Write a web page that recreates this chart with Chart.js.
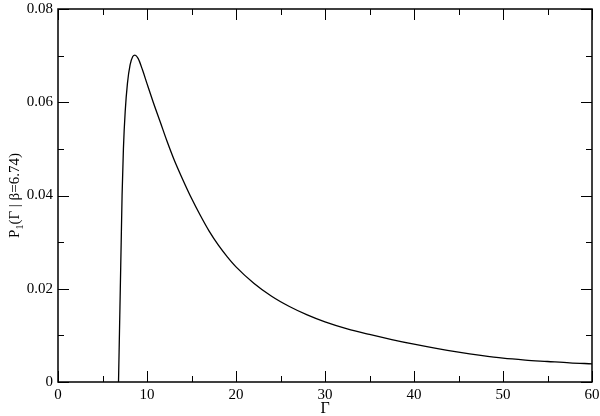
<!DOCTYPE html>
<html>
<head>
<meta charset="utf-8">
<script src="https://cdn.jsdelivr.net/npm/chart.js@4/dist/chart.umd.min.js"></script>
<style>
  body { margin: 0; background: #fff; }
  #wrap { width: 600px; height: 416px; }
</style>
</head>
<body>
<div id="wrap"><canvas id="plot"></canvas></div>
<script>
// values
const gamma = [6.80, 6.85, 6.92, 7.00, 7.10, 7.20, 7.35, 7.55, 7.80, 8.10, 8.40, 8.65, 9.0, 9.5,
  10.0, 10.7, 11.5, 12.2, 13.0, 14.0, 15.0, 16.0, 17.0, 18.0, 19.0, 20.0, 22.0, 24.0, 26.0,
  28.0, 30.0, 32.5, 35.0, 37.5, 40.0, 42.5, 45.0, 47.5, 50.0, 52.5, 55.0, 57.5, 60.0];
const prob = [0, 0.005, 0.012, 0.020, 0.030, 0.040, 0.050, 0.058, 0.064, 0.068, 0.0698, 0.0701, 0.0694, 0.0669,
  0.0640, 0.0600, 0.0557, 0.0519, 0.0479, 0.0435, 0.0394, 0.0357, 0.0323, 0.0294, 0.0269, 0.0247, 0.0212, 0.0184, 0.0162,
  0.0144, 0.0129, 0.0114, 0.0102, 0.0091, 0.0081, 0.0072, 0.0064, 0.0057, 0.0051, 0.0047, 0.0044, 0.0041, 0.0039];

const xMajor = [0, 10, 20, 30, 40, 50, 60];
const xMinor = [5, 15, 25, 35, 45, 55];
const yMajor = [0, 0.02, 0.04, 0.06, 0.08];
const yMinor = [0.01, 0.03, 0.05, 0.07];
const yTickLabels = ['0', '0.02', '0.04', '0.06', '0.08'];

const serif = '"Liberation Serif", "Times New Roman", Times, serif';

// frame, inward ticks on all four sides, and axis titles
const framePlugin = {
  id: 'frame',
  afterDraw(chart) {
    const ctx = chart.ctx;
    const a = chart.chartArea;
    const xs = chart.scales.x, ys = chart.scales.y;
    ctx.save();
    ctx.strokeStyle = '#000';
    ctx.lineWidth = 1.5;
    ctx.strokeRect(a.left, a.top, a.right - a.left, a.bottom - a.top);

    ctx.lineWidth = 1;
    const tick = (x1, y1, x2, y2) => {
      ctx.beginPath(); ctx.moveTo(x1, y1); ctx.lineTo(x2, y2); ctx.stroke();
    };
    xMajor.forEach(v => {
      const p = Math.round(xs.getPixelForValue(v)) + 0.5;
      tick(p, a.bottom, p, a.bottom - 11);
      tick(p, a.top, p, a.top + 11);
    });
    xMinor.forEach(v => {
      const p = Math.round(xs.getPixelForValue(v)) + 0.5;
      tick(p, a.bottom, p, a.bottom - 6);
      tick(p, a.top, p, a.top + 6);
    });
    yMajor.forEach(v => {
      const p = Math.round(ys.getPixelForValue(v)) + 0.5;
      tick(a.left, p, a.left + 11, p);
      tick(a.right, p, a.right - 11, p);
    });
    yMinor.forEach(v => {
      const p = Math.round(ys.getPixelForValue(v)) + 0.5;
      tick(a.left, p, a.left + 6, p);
      tick(a.right, p, a.right - 6, p);
    });

    ctx.fillStyle = '#000';
    // x title
    ctx.font = '16px ' + serif;
    ctx.textAlign = 'center';
    ctx.textBaseline = 'alphabetic';
    ctx.fillText('Γ', (a.left + a.right) / 2, 413);

    // y title with subscript
    ctx.translate(19, (a.top + a.bottom) / 2);
    ctx.rotate(-Math.PI / 2);
    const big = '15px ' + serif, small = '10px ' + serif;
    const parts = [['P', big, 0], ['1', small, 4], ['(Γ | β=6.74)', big, 0]];
    let total = 0;
    parts.forEach(([t, f]) => { ctx.font = f; total += ctx.measureText(t).width; });
    let x = -total / 2;
    ctx.textAlign = 'left';
    parts.forEach(([t, f, dy]) => {
      ctx.font = f;
      ctx.fillText(t, x, dy);
      x += ctx.measureText(t).width;
    });
    ctx.restore();
  }
};

new Chart(document.getElementById('plot'), {
  type: 'line',
  data: {
    datasets: [{
      data: gamma.map((g, i) => ({ x: g, y: prob[i] })),
      borderColor: '#000',
      borderWidth: 1.3,
      pointRadius: 0,
      fill: false,
      cubicInterpolationMode: 'monotone'
    }]
  },
  options: {
    responsive: true,
    maintainAspectRatio: false,
    animation: false,
    layout: { padding: { top: 9, right: 8, left: 0, bottom: 0 } },
    plugins: { legend: { display: false }, tooltip: { enabled: false } },
    scales: {
      x: {
        type: 'linear',
        min: 0, max: 60,
        grid: { display: false, drawTicks: false },
        border: { display: false },
        afterFit: s => { s.height = 34; s.paddingLeft = 0; s.paddingRight = 0; },
        afterBuildTicks: s => { s.ticks = xMajor.map(v => ({ value: v })); },
        ticks: {
          padding: 4,
          maxRotation: 0,
          color: '#000',
          font: { family: serif, size: 15 },
          callback: v => String(v)
        }
      },
      y: {
        min: 0, max: 0.08,
        grid: { display: false, drawTicks: false },
        border: { display: false },
        afterFit: s => { s.width = 58; s.paddingTop = 0; s.paddingBottom = 0; },
        afterBuildTicks: s => { s.ticks = yMajor.map(v => ({ value: v })); },
        ticks: {
          padding: 5,
          color: '#000',
          font: { family: serif, size: 15 },
          callback: (v, i) => yTickLabels[i]
        }
      }
    }
  },
  plugins: [framePlugin]
});
</script>
</body>
</html>
